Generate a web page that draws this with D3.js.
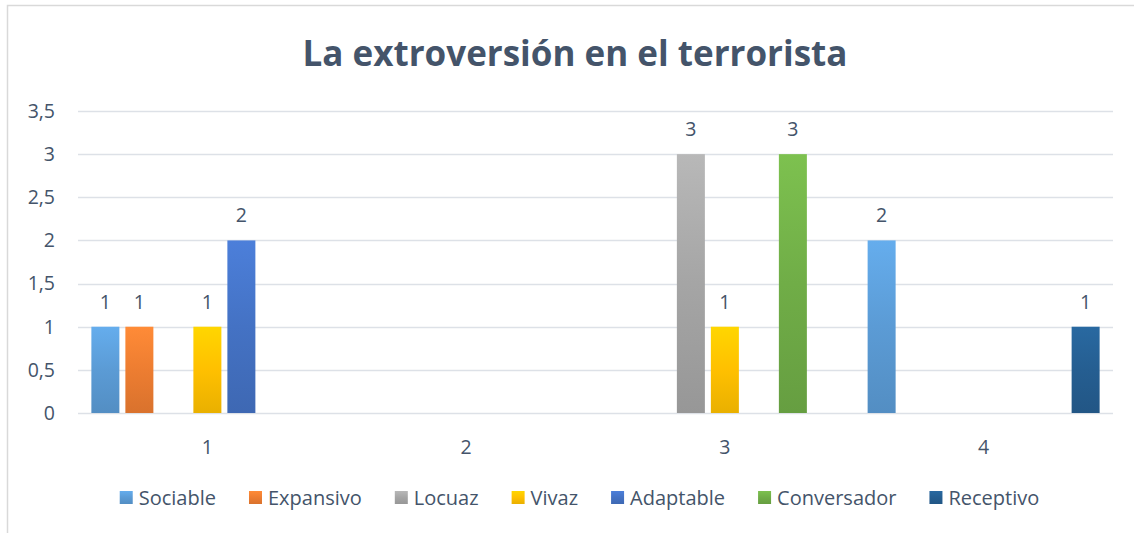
<!DOCTYPE html>
<html>
<head>
<meta charset="utf-8">
<script src="https://cdn.jsdelivr.net/npm/d3@7"></script>
<style>
  body { margin: 0; background: #fff; }
  text { font-family: "Open Sans", "Noto Sans", sans-serif; fill: #44546A; }
</style>
</head>
<body>
<div id="svgBody"></div>
<script>
// chart data
var categories = ["1", "2", "3", "4"];
var seriesNames = ["Sociable", "Expansivo", "Locuaz", "Vivaz", "Adaptable", "Conversador", "Receptivo"];
var seriesColors = ["#5B9BD5", "#ED7D31", "#A5A5A5", "#FFC000", "#4472C4", "#70AD47", "#255E91"];
// one value per category, null = empty cell
var sociable    = [1, null, null, 2];
var expansivo   = [1, null, null, null];
var locuaz      = [null, null, 3, null];
var vivaz       = [1, null, 1, null];
var adaptable   = [2, null, null, null];
var conversador = [null, null, 3, null];
var receptivo   = [null, null, null, 1];
var yTicks = [0, 0.5, 1, 1.5, 2, 2.5, 3, 3.5];

var seriesValues = [sociable, expansivo, locuaz, vivaz, adaptable, conversador, receptivo];

var W = 1134, H = 533;
var margin = {top: 111, right: 21, bottom: 120, left: 78};
var width = W - margin.left - margin.right,
    height = 413 - margin.top;
var fs = "19.5px";

var svg = d3.select("#svgBody").append("svg")
    .attr("width", W)
    .attr("height", H);

// outer frame
svg.append("rect")
    .attr("x", 7.5).attr("y", 5.5)
    .attr("width", W + 10).attr("height", H + 10)
    .attr("fill", "none")
    .attr("stroke", "#D9D9D9")
    .attr("stroke-width", 1.5);

// gradients
var defs = svg.append("defs");
seriesColors.forEach(function(c, i) {
    var g = defs.append("linearGradient")
        .attr("id", "grad" + i)
        .attr("x1", 0).attr("y1", 0).attr("x2", 0).attr("y2", 1);
    g.append("stop").attr("offset", "0%").attr("stop-color", d3.color(c).brighter(0.3));
    g.append("stop").attr("offset", "50%").attr("stop-color", c);
    g.append("stop").attr("offset", "100%").attr("stop-color", d3.color(c).darker(0.25));
});

// title
svg.append("text")
    .attr("x", 575)
    .attr("y", 66)
    .attr("text-anchor", "middle")
    .style("font-size", "35px")
    .style("font-weight", "bold")
    .text("La extroversión en el terrorista");

var g = svg.append("g")
    .attr("transform", "translate(" + margin.left + "," + margin.top + ")");

var x = d3.scaleBand()
    .domain(categories)
    .range([0, width]);

var y = d3.scaleLinear()
    .domain([0, 3.5])
    .range([height, 0]);

var slot = 34, barW = 28;
var x1 = d3.scaleBand()
    .domain(seriesNames)
    .range([-slot * 3.5, slot * 3.5]);

// gridlines
g.selectAll(".grid")
    .data(yTicks)
    .enter().append("line")
    .attr("class", "grid")
    .attr("x1", 0).attr("x2", width)
    .attr("y1", function(d) { return Math.round(y(d)) + 0.5; })
    .attr("y2", function(d) { return Math.round(y(d)) + 0.5; })
    .attr("stroke", "#DDE1E7")
    .attr("stroke-width", 1.5);

// y tick labels
g.selectAll(".ylab")
    .data(yTicks)
    .enter().append("text")
    .attr("class", "ylab")
    .attr("x", -23)
    .attr("y", function(d) { return y(d); })
    .attr("dy", "0.35em")
    .attr("text-anchor", "end")
    .style("font-size", fs)
    .text(function(d) { return String(d).replace(".", ","); });

// x category labels
g.selectAll(".xlab")
    .data(categories)
    .enter().append("text")
    .attr("class", "xlab")
    .attr("x", function(d) { return x(d) + x.bandwidth() / 2; })
    .attr("y", height + 41)
    .attr("text-anchor", "middle")
    .style("font-size", fs)
    .text(function(d) { return d; });

// bars
var points = [];
seriesNames.forEach(function(name, si) {
    seriesValues[si].forEach(function(v, ci) {
        if (v !== null) points.push({s: si, name: name, cat: categories[ci], v: v});
    });
});

g.selectAll(".bar")
    .data(points)
    .enter().append("rect")
    .attr("class", "bar")
    .attr("x", function(d) { return x(d.cat) + x.bandwidth() / 2 + x1(d.name) + (slot - barW) / 2; })
    .attr("y", function(d) { return y(d.v); })
    .attr("width", barW)
    .attr("height", function(d) { return height - y(d.v); })
    .attr("fill", function(d) { return "url(#grad" + d.s + ")"; });

g.selectAll(".vlab")
    .data(points)
    .enter().append("text")
    .attr("class", "vlab")
    .attr("x", function(d) { return x(d.cat) + x.bandwidth() / 2 + x1(d.name) + slot / 2; })
    .attr("y", function(d) { return y(d.v) - 25; })
    .attr("dy", "0.35em")
    .attr("text-anchor", "middle")
    .style("font-size", fs)
    .text(function(d) { return d.v; });

// legend
var legend = svg.append("g");
var lx = 0, gap = 33;
seriesNames.forEach(function(name, i) {
    var item = legend.append("g").attr("transform", "translate(" + lx + ",0)");
    item.append("rect")
        .attr("x", 0).attr("y", -7)
        .attr("width", 13).attr("height", 13)
        .attr("fill", "url(#grad" + i + ")");
    var t = item.append("text")
        .attr("x", 19).attr("y", 0)
        .attr("dy", "0.35em")
        .style("font-size", "20px")
        .text(name);
    lx += 19 + t.node().getComputedTextLength() + gap;
});
lx -= gap;
legend.attr("transform", "translate(" + (579.5 - lx / 2) + ",498)");
</script>
</body>
</html>
